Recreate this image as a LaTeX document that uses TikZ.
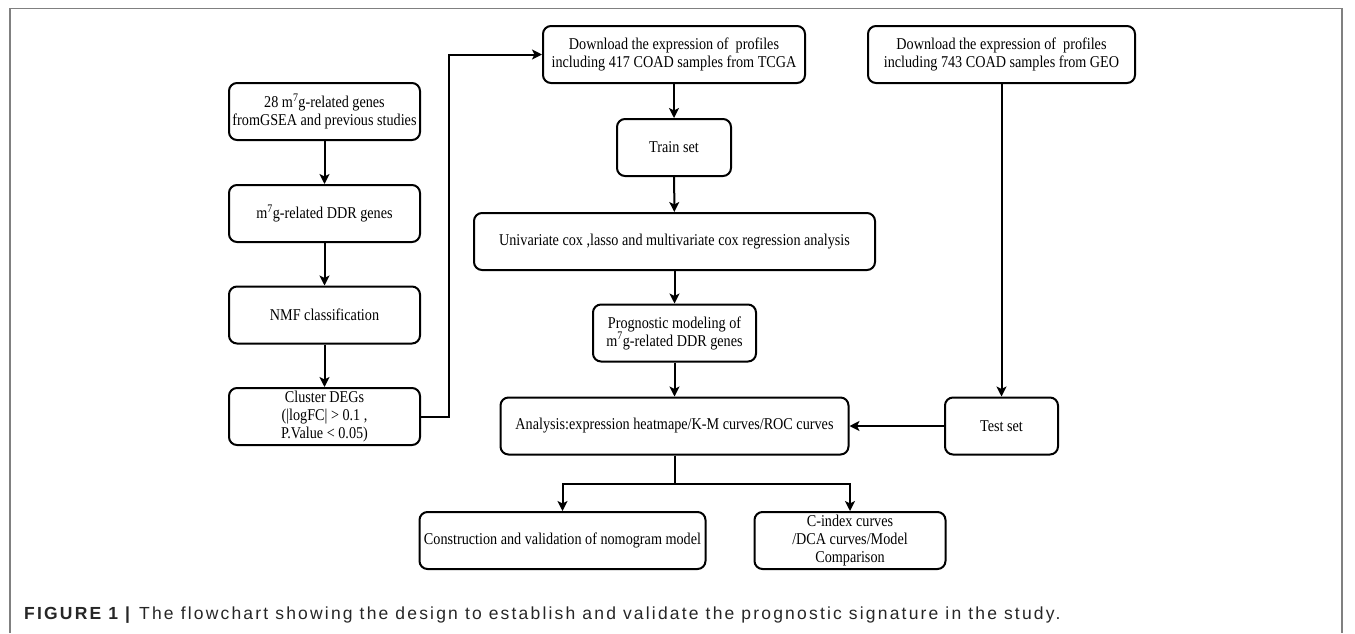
\documentclass[tikz,border=0pt]{standalone}
\usepackage{fontspec}
\setmainfont{Liberation Serif}[FakeStretch=0.86]
\newfontfamily\capfont{Liberation Sans}[LetterSpace=12.5]
\usetikzlibrary{arrows.meta}
\begin{document}
\begin{tikzpicture}[x=1pt,y=-1pt,
  box/.style={draw=black, line width=2pt, rounded corners=8pt, align=center,
    minimum height=57pt, inner sep=2pt, font=\fontsize{16.5}{18}\selectfont},
  arr/.style={draw=black, line width=2pt, -{Stealth[length=10pt,width=10pt,inset=2.5pt]}},
  frameline/.style={draw=black!50, line width=1.2pt}]
\useasboundingbox (0,0) rectangle (1355,633);
\draw[frameline] (10,633) -- (10,8.5) -- (1342,8.5) -- (1342,633);

\node[box, minimum width=262pt] (tcga) at (674,54.5) {Download the expression of\ \ profiles\\including 417 COAD samples from TCGA};
\node[box, minimum width=267pt] (geo) at (1001.5,54.5) {Download the expression of\ \ profiles\\including 743 COAD samples from GEO};
\node[box, minimum width=191pt] (g28) at (324.5,111.5) {28 m\textsuperscript{7}g-related genes\\fromGSEA and previous studies};
\node[box, minimum width=191pt] (ddr) at (324.5,213.5) {m\textsuperscript{7}g-related DDR genes};
\node[box, minimum width=191pt] (nmf) at (324.5,315) {NMF classification};
\node[box, minimum width=191pt] (clu) at (324.5,416.5) {Cluster DEGs\\(|logFC| > 0.1 ,\\P.Value < 0.05)};
\node[box, minimum width=114pt] (train) at (674,147.5) {Train set};
\node[box, minimum width=401pt] (univ) at (674.5,241.5) {Univariate cox ,lasso and multivariate cox regression analysis};
\node[box, minimum width=163pt] (prog) at (674.5,333) {Prognostic modeling of\\m\textsuperscript{7}g-related DDR genes};
\node[box, minimum width=348pt] (anal) at (674.5,426) {Analysis:expression heatmape/K-M curves/ROC curves};
\node[box, minimum width=113pt] (test) at (1001.5,426) {Test set};
\node[box, minimum width=286pt] (cons) at (562.5,540.5) {Construction and validation of nomogram model};
\node[box, minimum width=191pt] (cidx) at (850,540.5) {C-index curves\\/DCA curves/Model\\Comparison};

\draw[arr] (g28) -- (ddr);
\draw[arr] (ddr) -- (nmf);
\draw[arr] (nmf) -- (clu);
\draw[arr] (clu.east) -- ++(28,0) |- (tcga.west);
\draw[arr] (tcga) -- (train);
\draw[arr] (train) -- (univ);
\draw[arr] (univ) -- (prog);
\draw[arr] (prog) -- (anal);
\draw[arr] (geo) -- (test);
\draw[arr] (test) -- (anal);
\draw[arr] (anal.south) -- ++(0,28) -| (cons.north);
\draw[arr] (anal.south) -- ++(0,28) -| (cidx.north);

\node[anchor=west, inner sep=0pt, font=\capfont\fontsize{17.5}{19}\selectfont, text=black!85] (cap) at (24,615)
  {\textbf{FIGURE 1 |} The flowchart showing the design to establish and validate the prognostic signature in the study.};
\end{tikzpicture}
\end{document}
